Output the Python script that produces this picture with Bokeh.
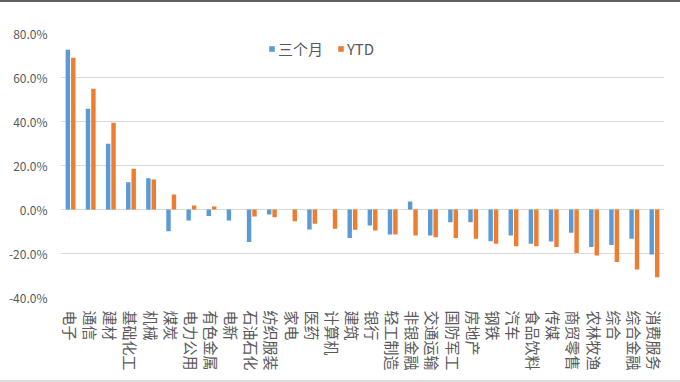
from bokeh.plotting import figure
from bokeh.models import (ColumnDataSource, FactorRange, FixedTicker, Legend,
                          LegendItem, Div)
from bokeh.layouts import column
from bokeh.transform import dodge
from bokeh.embed import file_html
from bokeh.resources import INLINE

# Industry returns (%) over the last three months and year to date
categories = ["电子", "通信", "建材", "基础化工", "机械", "煤炭", "电力公用", "有色金属",
              "电新", "石油石化", "纺织服装", "家电", "医药", "计算机", "建筑", "银行",
              "轻工制造", "非银金融", "交通运输", "国防军工", "房地产", "钢铁", "汽车",
              "食品饮料", "传媒", "商贸零售", "农林牧渔", "综合", "综合金融", "消费服务"]
three_month = [72.6, 45.8, 29.9, 12.4, 14.2, -9.9, -5.0, -3.0, -5.0, -14.8,
               -2.3, 0.0, -9.1, 0.0, -12.9, -7.3, -11.4, 3.6, -11.8, -5.8,
               -5.8, -14.4, -11.8, -15.6, -14.5, -10.6, -17.1, -16.1, -13.3, -20.5]
ytd = [69.0, 54.9, 39.4, 18.5, 13.6, 6.8, 1.8, 1.4, 0.0, -3.2,
       -3.5, -5.3, -6.5, -8.8, -9.2, -9.5, -11.4, -11.8, -12.6, -12.9,
       -13.3, -15.6, -16.7, -16.7, -17.1, -19.8, -20.9, -23.9, -27.3, -30.8]
y_ticks = [-40, -20, 0, 20, 40, 60, 80]
series_names = ["三个月", "YTD"]

BLUE = "#5B9BD5"
ORANGE = "#ED7D31"
FONT = "Noto Sans CJK SC"

source = ColumnDataSource(dict(cat=categories, m3=three_month, ytd=ytd))

p = figure(width=680, height=378, x_range=FactorRange(*categories, range_padding=0),
           y_range=(-40, 80), output_backend="svg", toolbar_location=None,
           min_border_left=60, min_border_right=16, min_border_top=31,
           min_border_bottom=83, margin=0)
p.outline_line_color = None
p.background_fill_color = "white"
p.border_fill_color = "white"

r1 = p.vbar(x=dodge("cat", -0.135, range=p.x_range), top="m3", bottom=0, width=0.22,
            source=source, fill_color=BLUE, line_color=None)
r2 = p.vbar(x=dodge("cat", 0.135, range=p.x_range), top="ytd", bottom=0, width=0.22,
            source=source, fill_color=ORANGE, line_color=None)

# value axis
p.yaxis.ticker = FixedTicker(ticks=y_ticks)
p.yaxis.major_label_overrides = {t: f"{t:.1f}%" for t in y_ticks}
p.yaxis.axis_line_color = None
p.yaxis.major_tick_line_color = None
p.yaxis.minor_tick_line_color = None
p.yaxis.major_label_standoff = 7
p.yaxis.major_label_text_font = FONT
p.yaxis.major_label_text_font_size = "12px"
p.yaxis.major_label_text_color = "#595959"

# category axis
p.xaxis.axis_line_color = None
p.xaxis.major_tick_line_color = None
p.xaxis.major_label_orientation = "vertical"
p.xaxis.major_label_standoff = 7
p.xaxis.major_label_text_font = FONT
p.xaxis.major_label_text_font_size = "15px"
p.xaxis.major_label_text_color = "#595959"

p.xgrid.grid_line_color = None
p.ygrid.grid_line_color = "#D9D9D9"
p.ygrid.grid_line_width = 1

legend = Legend(items=[LegendItem(label=series_names[0], renderers=[r1]),
                       LegendItem(label=series_names[1], renderers=[r2])],
                location=(208, 238), orientation="horizontal",
                label_text_font=FONT, label_text_font_size="15px",
                label_text_color="#595959", glyph_width=7, glyph_height=7,
                label_standoff=3, spacing=14, padding=0, margin=0,
                border_line_color=None, background_fill_alpha=0)
p.add_layout(legend)

# thin frame strips above and below the chart
top_bar = Div(text="", width=680, height=2, margin=0,
              styles={"background-color": "#5f5f5f", "width": "680px", "height": "2px"})
bottom_bar = Div(text="", width=680, height=2, margin=0,
                 styles={"background-color": "#dcdcdc", "width": "680px", "height": "2px"})
layout = column(top_bar, p, bottom_bar, spacing=0, margin=0)

open("out.html", "w").write(file_html(layout, INLINE))
